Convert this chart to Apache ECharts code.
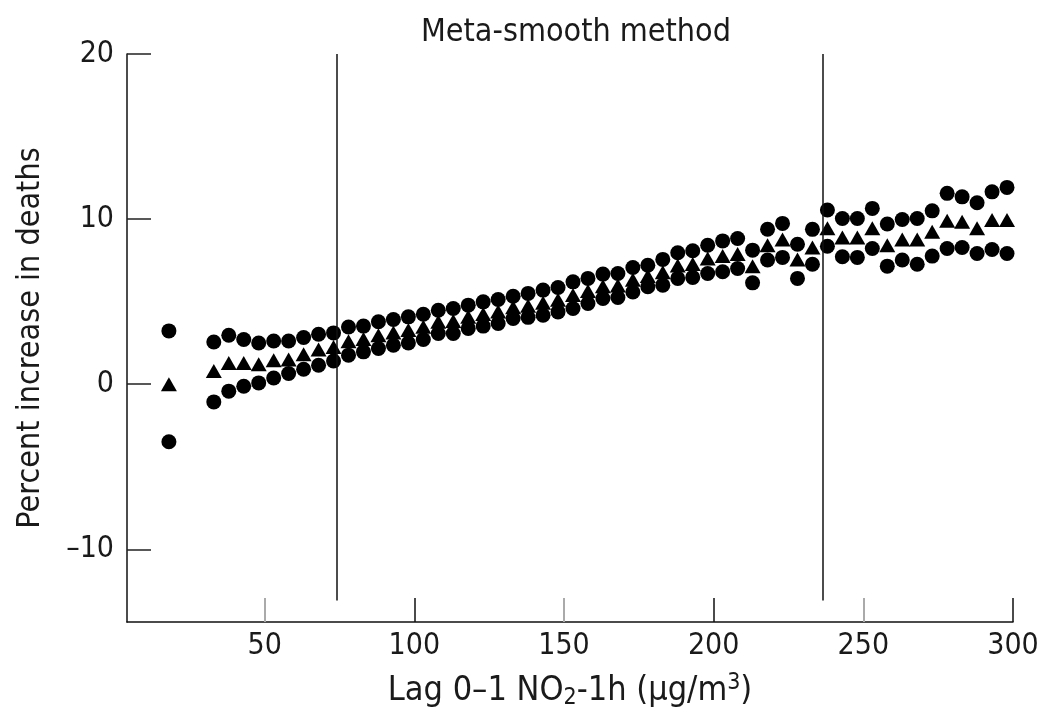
<!DOCTYPE html>
<html><head><meta charset="utf-8">
<script src="https://cdn.jsdelivr.net/npm/echarts@6/dist/echarts.min.js"></script>
<style>html,body{margin:0;padding:0;background:#fff}#c{width:1045px;height:713px}</style>
</head><body><div id="c"></div><script>
const xValues = [18, 33, 38, 43, 48, 53, 58, 63, 68, 73, 78, 83, 88, 93, 98, 103, 108, 113, 118, 123, 128, 133, 138, 143, 148, 153, 158, 163, 168, 173, 178, 183, 188, 193, 198, 203, 208, 213, 218, 223, 228, 233, 238, 243, 248, 253, 258, 263, 268, 273, 278, 283, 288, 293, 298];
const upper = [3.23, 2.56, 2.97, 2.71, 2.5, 2.62, 2.62, 2.83, 3.03, 3.11, 3.47, 3.52, 3.78, 3.92, 4.08, 4.24, 4.48, 4.59, 4.79, 4.99, 5.13, 5.33, 5.5, 5.7, 5.86, 6.2, 6.41, 6.67, 6.71, 7.07, 7.21, 7.56, 7.96, 8.08, 8.42, 8.68, 8.83, 8.12, 9.39, 9.74, 8.48, 9.38, 10.55, 10.04, 10.04, 10.65, 9.7, 9.98, 10.04, 10.5, 11.56, 11.35, 10.99, 11.65, 11.92];
const estimate = [0.0, 0.8, 1.29, 1.29, 1.21, 1.45, 1.5, 1.82, 2.1, 2.26, 2.6, 2.74, 2.97, 3.14, 3.29, 3.48, 3.78, 3.83, 4.09, 4.26, 4.41, 4.66, 4.75, 4.94, 5.12, 5.4, 5.65, 5.93, 5.98, 6.33, 6.56, 6.78, 7.19, 7.28, 7.62, 7.76, 7.88, 7.15, 8.42, 8.77, 7.56, 8.28, 9.44, 8.89, 8.89, 9.44, 8.42, 8.77, 8.77, 9.23, 9.9, 9.84, 9.44, 9.94, 9.94];
const lower = [-3.48, -1.07, -0.42, -0.12, 0.08, 0.38, 0.65, 0.91, 1.15, 1.41, 1.76, 1.96, 2.16, 2.36, 2.5, 2.71, 3.07, 3.07, 3.38, 3.52, 3.68, 3.98, 4.05, 4.18, 4.38, 4.59, 4.89, 5.19, 5.25, 5.59, 5.9, 6.0, 6.41, 6.47, 6.71, 6.81, 7.01, 6.14, 7.52, 7.68, 6.41, 7.27, 8.36, 7.72, 7.68, 8.22, 7.15, 7.52, 7.27, 7.76, 8.22, 8.28, 7.92, 8.16, 7.92];
const xTicks = [50, 100, 150, 200, 250, 300];
const xTicksGrey = [50, 150, 250];
const xTicksDark = [100, 200, 300];
const yTicks = [-10, 0, 10, 20];
const refLines = [74, 236.6];

const FONT = "'DejaVu Sans Condensed', 'DejaVu Sans', sans-serif";
const pair = (ys) => xValues.map((x, i) => [x, ys[i]]);

const chart = echarts.init(document.getElementById('c'), null, {renderer: 'canvas'});
chart.setOption({
  animation: false,
  backgroundColor: '#fff',
  title: {
    text: 'Meta-smooth method',
    left: 571, top: 12, textAlign: 'center',
    textStyle: {fontFamily: FONT, fontSize: 32, fontWeight: 'normal', color: '#1a1a1a'}
  },
  grid: {left: 127, right: 32, top: 54, bottom: 91, containLabel: false, outerBoundsMode: 'none'},
  xAxis: [{
    type: 'value', min: 4, max: 300,
    axisLine: {show: true, onZero: false, lineStyle: {color: '#111', width: 1.5}},
    axisTick: {show: true, inside: true, length: 24, customValues: xTicksGrey, lineStyle: {color: '#aaa', width: 2}},
    axisLabel: {customValues: xTicks, margin: 9, fontFamily: FONT, fontSize: 30, color: '#1a1a1a'},
    splitLine: {show: false},
    name: 'Lag 0\u20131 NO{sub|2}-1h (\u00b5g/m{sup|3})',
    nameLocation: 'middle', nameGap: 50,
    nameTextStyle: {
      fontFamily: FONT, fontSize: 34, color: '#1a1a1a',
      rich: {
        sub: {fontFamily: FONT, fontSize: 23, color: '#1a1a1a', verticalAlign: 'bottom', padding: [15, 0, 0, 0]},
        sup: {fontFamily: FONT, fontSize: 23, color: '#1a1a1a', verticalAlign: 'top', padding: [0, 0, 15, 0]}
      }
    }
  }, {
    type: 'value', min: 4, max: 300, position: 'bottom', gridIndex: 0,
    axisLine: {show: false, onZero: false},
    axisTick: {show: true, inside: true, length: 24, customValues: xTicksDark, lineStyle: {color: '#111', width: 1.5}},
    axisLabel: {show: false},
    splitLine: {show: false}
  }],
  yAxis: {
    type: 'value', min: -14.4, max: 20,
    axisLine: {show: true, onZero: false, lineStyle: {color: '#111', width: 1.5}},
    axisTick: {show: true, inside: true, length: 24, customValues: yTicks, lineStyle: {color: '#222', width: 1.5}},
    axisLabel: {customValues: yTicks, margin: 13, fontFamily: FONT, fontSize: 30, color: '#1a1a1a',
      formatter: v => String(v).replace('-', '\u2013')},
    splitLine: {show: false},
    name: 'Percent increase in deaths',
    nameLocation: 'middle', nameGap: 80, nameRotate: 90,
    nameTextStyle: {fontFamily: FONT, fontSize: 32, color: '#1a1a1a'}
  },
  series: [
    {
      name: 'Upper', type: 'scatter', symbol: 'circle', symbolSize: 15,
      itemStyle: {color: '#000', opacity: 1}, data: pair(upper),
      markLine: {
        silent: true, symbol: 'none', label: {show: false},
        lineStyle: {color: '#111', width: 1.5, type: 'solid', opacity: 1},
        emphasis: {disabled: true},
        data: refLines.map(x => [{coord: [x, 20]}, {coord: [x, -13.1]}])
      }
    },
    {
      name: 'Estimate', type: 'scatter', symbol: 'triangle', symbolSize: [16, 14],
      itemStyle: {color: '#000', opacity: 1}, data: pair(estimate)
    },
    {
      name: 'Lower', type: 'scatter', symbol: 'circle', symbolSize: 15,
      itemStyle: {color: '#000', opacity: 1}, data: pair(lower)
    }
  ]
});
</script></body></html>
